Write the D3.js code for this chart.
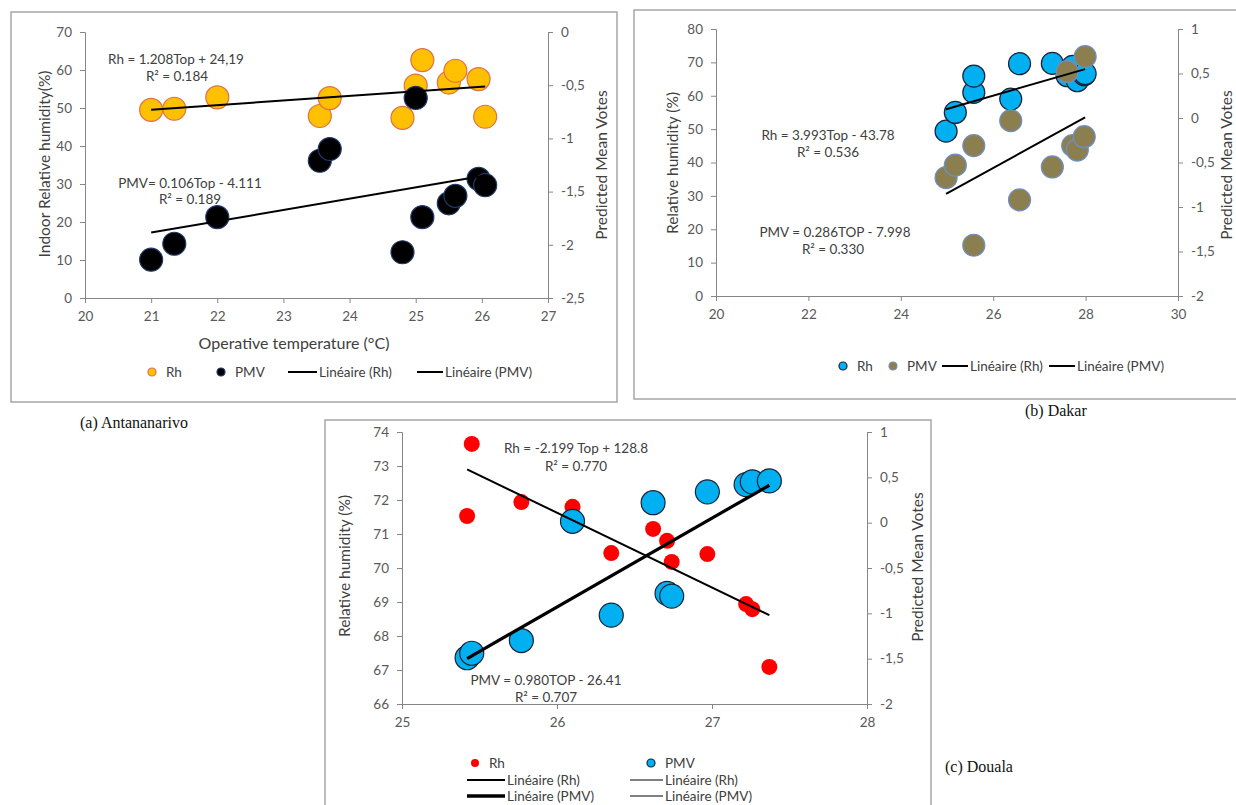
<!DOCTYPE html>
<html>
<head>
<meta charset="utf-8">
<script src="https://cdn.jsdelivr.net/npm/d3@7"></script>
<style>
  body { margin: 0; background: #fff; }
  text { font-family: Lato, "Open Sans", sans-serif; }
  .caption { font-family: "Liberation Serif", "DejaVu Serif", serif; }
</style>
</head>
<body>
<svg id="fig" width="1236" height="805"></svg>
<script>
// (a) Antananarivo
const tanaTemp = [21.0, 21.35, 22.0, 23.55, 23.7, 24.8, 25.0, 25.1, 25.5, 25.6, 25.95, 26.05];
const tanaRh   = [49.5, 49.8, 52.8, 47.9, 52.6, 47.4, 55.9, 62.6, 56.7, 59.8, 57.6, 47.7];
const tanaPmv  = [-2.14, -1.99, -1.74, -1.21, -1.10, -2.07, -0.62, -1.74, -1.61, -1.54, -1.38, -1.44];
const tanaFit  = { rh: [1.208, 24.19], pmv: [0.106, -4.111] };

// (b) Dakar
const dakarTemp = [24.98, 25.18, 25.58, 25.58, 26.38, 26.57, 27.28, 27.6, 27.72, 27.82, 27.97, 27.99];
const dakarRh   = [49.4, 55.0, 61.0, 65.9, 59.0, 69.6, 69.7, 66.0, 68.8, 64.5, 66.3, 66.6];
const dakarPmv  = [-0.67, -0.53, -0.31, -1.43, -0.03, -0.92, -0.55, 0.52, -0.31, -0.36, -0.21, 0.69];
const dakarFit  = { rh: [3.993, -43.78], pmv: [0.286, -7.998] };

// (c) Douala
const doualaTemp = [25.42, 25.45, 25.77, 26.1, 26.35, 26.62, 26.71, 26.74, 26.97, 27.22, 27.26, 27.37];
const doualaRh   = [71.53, 73.65, 71.94, 71.8, 70.44, 71.15, 70.8, 70.18, 70.41, 68.94, 68.79, 67.09];
const doualaPmv  = [-1.49, -1.44, -1.30, 0.015, -1.02, 0.22, -0.78, -0.81, 0.34, 0.42, 0.45, 0.46];
const doualaFit  = { rh: [-2.199, 128.8], pmv: [0.980, -26.41] };

const svg = d3.select("#fig");
const axisGray = "#868686";
const textGray = "#404040";
const comma = d => String(d).replace(".", ",");

function styleAxis(g) {
  g.select(".domain").attr("stroke", axisGray);
  g.selectAll(".tick line").attr("stroke", axisGray);
  g.selectAll(".tick text").attr("fill", "#595959").style("font-size", "13.5px");
}

function drawPanel(p) {
  const g = svg.append("g");
  g.append("rect")
    .attr("x", p.frame[0]).attr("y", p.frame[1])
    .attr("width", p.frame[2]).attr("height", p.frame[3])
    .attr("fill", "#fff").attr("stroke", "#a6a6a6").attr("stroke-width", 1.5);

  const x = d3.scaleLinear().domain(p.xDomain).range(p.xRange);
  const yL = d3.scaleLinear().domain(p.yLDomain).range(p.yRange);
  const yR = d3.scaleLinear().domain(p.yRDomain).range(p.yRange);

  g.append("g").attr("transform", `translate(0,${p.yRange[0]})`)
    .call(d3.axisBottom(x).tickValues(p.xTicks).tickSizeOuter(0).tickSize(5).tickPadding(8).tickFormat(d3.format("d")))
    .call(styleAxis);
  g.append("g").attr("transform", `translate(${p.xRange[0]},0)`)
    .call(d3.axisLeft(yL).tickValues(p.yLTicks).tickSizeOuter(0).tickSize(5).tickPadding(8).tickFormat(d3.format("d")))
    .call(styleAxis);
  g.append("g").attr("transform", `translate(${p.xRange[1]},0)`)
    .call(d3.axisRight(yR).tickValues(p.yRTicks).tickSizeOuter(0).tickSize(5).tickPadding(8).tickFormat(comma))
    .call(styleAxis);

  // points
  p.series.forEach(s => {
    const y = s.axis === "L" ? yL : yR;
    g.append("g").selectAll("circle")
      .data(s.vals.map((v, i) => [p.temp[i], v]))
      .join("circle")
      .attr("cx", d => x(d[0])).attr("cy", d => y(d[1]))
      .attr("r", s.r)
      .attr("fill", s.fill)
      .attr("stroke", s.stroke)
      .attr("stroke-width", s.stroke === "none" ? 0 : 1.2);
  });

  // linear trendlines
  const [t0, t1] = d3.extent(p.temp);
  p.trends.forEach(t => {
    const y = t.axis === "L" ? yL : yR;
    const ends = [t0, t1].map(v => [x(v), y(t.coef[0] * v + t.coef[1])]);
    g.append("path").attr("d", d3.line()(ends))
      .attr("stroke", "#000").attr("stroke-width", t.width).attr("fill", "none");
  });

  // equations
  p.notes.forEach(n => {
    g.append("text").attr("x", n[0]).attr("y", n[1]).attr("dy", "0.35em")
      .attr("text-anchor", "middle").attr("fill", textGray)
      .style("font-size", "13.5px").text(n[2]);
  });

  // axis titles
  p.titles.forEach(t => {
    g.append("text")
      .attr("transform", `translate(${t.x},${t.y}) rotate(${t.rot || 0})`)
      .attr("text-anchor", "middle").attr("dy", "0.35em")
      .attr("fill", textGray).style("font-size", t.size + "px").text(t.text);
  });

  // legend
  p.legend.forEach(l => {
    if (l.type === "dot") {
      g.append("circle").attr("cx", l.x).attr("cy", l.y).attr("r", 4)
        .attr("fill", l.fill).attr("stroke", l.stroke).attr("stroke-width", l.stroke === "none" ? 0 : 1.2);
      g.append("text").attr("x", l.x + 14).attr("y", l.y).attr("dy", "0.35em")
        .attr("fill", textGray).style("font-size", "13.5px").text(l.text);
    } else {
      g.append("line").attr("x1", l.x).attr("x2", l.x + l.len)
        .attr("y1", l.y).attr("y2", l.y).attr("stroke", "#000").attr("stroke-width", l.w);
      g.append("text").attr("x", l.x + l.len + 2).attr("y", l.y).attr("dy", "0.35em")
        .attr("fill", textGray).style("font-size", "13.5px").text(l.text);
    }
  });

  svg.append("text").attr("class", "caption")
    .attr("x", p.caption[0]).attr("y", p.caption[1]).attr("dy", "0.35em")
    .attr("fill", "#111").style("font-size", "16px").text(p.caption[2]);
}

drawPanel({
  frame: [11, 12, 606, 390],
  temp: tanaTemp,
  xDomain: [20, 27], xRange: [85, 548], xTicks: d3.range(20, 28, 1),
  yLDomain: [0, 70], yRDomain: [-2.5, 0], yRange: [298, 32],
  yLTicks: d3.range(0, 71, 10), yRTicks: [0, -0.5, -1, -1.5, -2, -2.5],
  series: [
    { vals: tanaRh, axis: "L", r: 11.5, fill: "#ffc000", stroke: "#e0704a" },
    { vals: tanaPmv, axis: "R", r: 11.5, fill: "#000", stroke: "#1f3a6a" }
  ],
  trends: [
    { coef: tanaFit.rh, axis: "L", width: 2 },
    { coef: tanaFit.pmv, axis: "R", width: 2 }
  ],
  notes: [
    [176, 59, "Rh = 1.208Top + 24,19"], [177, 76, "R² = 0.184"],
    [190, 183, "PMV= 0.106Top - 4.111"], [190, 199, "R² = 0.189"]
  ],
  titles: [
    { x: 45, y: 164, rot: -90, size: 15.5, text: "Indoor Relative humidity(%)" },
    { x: 602, y: 165, rot: -90, size: 15.5, text: "Predicted Mean Votes" },
    { x: 294, y: 343, size: 16, text: "Operative temperature  (°C)" }
  ],
  legend: [
    { type: "dot", x: 152, y: 372, fill: "#ffc000", stroke: "#e0704a", text: "Rh" },
    { type: "dot", x: 221, y: 372, fill: "#000", stroke: "#1f3a6a", text: "PMV" },
    { type: "line", x: 288, y: 372, len: 29, w: 2, text: "Linéaire (Rh)" },
    { type: "line", x: 417, y: 372, len: 26, w: 2, text: "Linéaire (PMV)" }
  ],
  caption: [80, 422, "(a) Antananarivo"]
});

drawPanel({
  frame: [634, 10, 620, 389],
  temp: dakarTemp,
  xDomain: [20, 30], xRange: [716, 1178], xTicks: d3.range(20, 31, 2),
  yLDomain: [0, 80], yRDomain: [-2, 1], yRange: [296, 29],
  yLTicks: d3.range(0, 81, 10), yRTicks: [1, 0.5, 0, -0.5, -1, -1.5, -2],
  series: [
    { vals: dakarRh, axis: "L", r: 11, fill: "#00b0f0", stroke: "#1a2238" },
    { vals: dakarPmv, axis: "R", r: 11, fill: "#8c7f4f", stroke: "#6f8fc4" }
  ],
  trends: [
    { coef: dakarFit.rh, axis: "L", width: 2 },
    { coef: dakarFit.pmv, axis: "R", width: 2 }
  ],
  notes: [
    [828, 135, "Rh = 3.993Top - 43.78"], [828, 152, "R² = 0.536"],
    [835, 232, "PMV = 0.286TOP - 7.998"], [833, 249, "R² = 0.330"]
  ],
  titles: [
    { x: 673, y: 163, rot: -90, size: 15.5, text: "Relative humidity (%)" },
    { x: 1227, y: 165, rot: -90, size: 15.5, text: "Predicted Mean Votes" }
  ],
  legend: [
    { type: "dot", x: 843, y: 366, fill: "#00b0f0", stroke: "#1a2238", text: "Rh" },
    { type: "dot", x: 893, y: 366, fill: "#8c7f4f", stroke: "#6f8fc4", text: "PMV" },
    { type: "line", x: 942, y: 366, len: 26, w: 2, text: "Linéaire (Rh)" },
    { type: "line", x: 1049, y: 366, len: 26, w: 2, text: "Linéaire (PMV)" }
  ],
  caption: [1025, 410, "(b) Dakar"]
});

drawPanel({
  frame: [325, 420, 606, 400],
  temp: doualaTemp,
  xDomain: [25, 28], xRange: [402, 867], xTicks: [25, 26, 27, 28],
  yLDomain: [66, 74], yRDomain: [-2, 1], yRange: [704, 432],
  yLTicks: d3.range(66, 75, 1), yRTicks: [1, 0.5, 0, -0.5, -1, -1.5, -2],
  series: [
    { vals: doualaRh, axis: "L", r: 8, fill: "#ff0000", stroke: "none" },
    { vals: doualaPmv, axis: "R", r: 12, fill: "#00b0f0", stroke: "#1a2238" }
  ],
  trends: [
    { coef: doualaFit.rh, axis: "L", width: 2 },
    { coef: doualaFit.pmv, axis: "R", width: 3.2 }
  ],
  notes: [
    [576, 448, "Rh = -2.199 Top + 128.8"], [576, 466, "R² = 0.770"],
    [546, 680, "PMV = 0.980TOP - 26.41"], [546, 697, "R² = 0.707"]
  ],
  titles: [
    { x: 345, y: 566, rot: -90, size: 15.5, text: "Relative humidity (%)" },
    { x: 918, y: 567, rot: -90, size: 15.5, text: "Predicted Mean Votes" }
  ],
  legend: [
    { type: "dot", x: 475, y: 763, fill: "#ff0000", stroke: "none", text: "Rh" },
    { type: "dot", x: 651, y: 763, fill: "#00b0f0", stroke: "#1a2238", text: "PMV" },
    { type: "line", x: 467, y: 780, len: 38, w: 2, text: "Linéaire (Rh)" },
    { type: "line", x: 630, y: 780, len: 33, w: 1, text: "Linéaire (Rh)" },
    { type: "line", x: 467, y: 796, len: 38, w: 3.5, text: "Linéaire (PMV)" },
    { type: "line", x: 630, y: 796, len: 33, w: 1, text: "Linéaire (PMV)" }
  ],
  caption: [945, 766, "(c) Douala"]
});
</script>
</body>
</html>
